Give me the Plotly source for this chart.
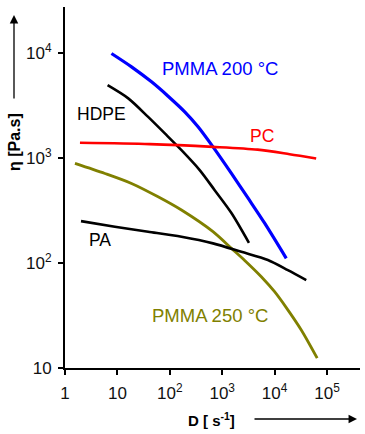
import plotly.graph_objects as go

# Data (shear rate D [1/s], viscosity eta [Pa.s])
pmma200_D = [7.7, 18.6, 44.8, 92.9, 193, 346, 668, 1500, 3100, 6460, 16700]
pmma200_eta = [9930, 7410, 5330, 3890, 2760, 1990, 1280, 715, 417, 240, 111]

hdpe_D = [6.5, 16.1, 38.6, 80.4, 167, 372, 719, 1500, 3240]
hdpe_eta = [4950, 3710, 2470, 1720, 1190, 769, 495, 300, 156]

pc_D = [1.93, 41.6, 668, 4740, 19300, 62200]
pc_eta = [1400, 1360, 1280, 1205, 1090, 993]

pmma250_D = [1.55, 5.78, 18.6, 59.8, 167, 668, 1500, 2690, 5580, 10000, 16700, 32300, 65000]
pmma250_eta = [891, 714, 574, 428, 320, 199, 138, 106, 74.1, 53.3, 37.6, 23.0, 12.4]

pa_D = [2.02, 8.95, 38.6, 167, 668, 2320, 7450, 17900, 40200]
pa_eta = [251, 222, 199, 178, 154, 128, 107, 85.7, 68.9]

x_tickvals = [1, 10, 100, 1000, 10000, 100000]
x_ticktext = ["1", "10", "10<sup>2</sup>", "10<sup>3</sup>", "10<sup>4</sup>", "10<sup>5</sup>"]
y_tickvals = [10, 100, 1000, 10000]
y_ticktext = ["10", "10<sup>2</sup>", "10<sup>3</sup>", "10<sup>4</sup>"]

FONT = "Liberation Sans"

fig = go.Figure()
series = [
    (pmma200_D, pmma200_eta, "#0000FF", 3.2),
    (hdpe_D, hdpe_eta, "#000000", 2.6),
    (pc_D, pc_eta, "#FF0000", 2.6),
    (pmma250_D, pmma250_eta, "#808000", 2.8),
    (pa_D, pa_eta, "#000000", 2.6),
]
for xs, ys, col, w in series:
    fig.add_trace(go.Scatter(x=xs, y=ys, mode="lines",
                             line=dict(color=col, width=w, shape="spline", smoothing=0.8),
                             showlegend=False, hoverinfo="skip"))

# label positions (log10 units, as required for log axes)
labels = [
    ("PMMA 200 °C", 2.952, 3.857, "#0000FF", 18.5),
    ("HDPE", 0.705, 3.419, "#000000", 17.5),
    ("PC", 3.766, 3.211, "#FF0000", 17.5),
    ("PA", 0.673, 2.219, "#000000", 17.5),
    ("PMMA 250 °C", 2.766, 1.5, "#808000", 18.5),
]
for txt, x, y, col, fs in labels:
    fig.add_annotation(x=x, y=y, xref="x", yref="y", text=txt, showarrow=False,
                       font=dict(family=FONT, size=fs, color=col),
                       xanchor="center", yanchor="middle")

L, R, T, B = 65, 5, 7, 66
W, H = 365, 434
PW, PH = W - L - R, H - T - B

def px(xp):
    return (xp - L) / PW

def py(yp):
    return (H - B - yp) / PH

# axis titles
fig.add_annotation(x=px(14), y=py(142), xref="paper", yref="paper",
                   text="<b>η [Pa.s]</b>", textangle=-90, showarrow=False,
                   font=dict(family=FONT, size=16, color="#000000"),
                   xanchor="center", yanchor="middle")
fig.add_annotation(x=px(211), y=py(419), xref="paper", yref="paper",
                   text="<b>D [ s<sup>-1</sup>]</b>", showarrow=False,
                   font=dict(family=FONT, size=15, color="#000000"),
                   xanchor="center", yanchor="middle")
# arrows
fig.add_annotation(x=px(14), y=py(15), xref="paper", yref="paper",
                   ax=0, ay=85, axref="pixel", ayref="pixel", text="",
                   showarrow=True, arrowhead=2, arrowsize=1.3, arrowwidth=1.3,
                   arrowcolor="#000000")
fig.add_annotation(x=px(357), y=py(419), xref="paper", yref="paper",
                   ax=-104, ay=0, axref="pixel", ayref="pixel", text="",
                   showarrow=True, arrowhead=2, arrowsize=1.3, arrowwidth=1.3,
                   arrowcolor="#000000")

# small overhangs of axis lines at origin
fig.add_shape(type="line", xref="paper", yref="paper", x0=-6 / PW, x1=0, y0=0, y1=0,
              line=dict(color="#000000", width=2))
fig.add_shape(type="line", xref="paper", yref="paper", x0=0, x1=0, y0=-5 / PH, y1=0,
              line=dict(color="#000000", width=2))

fig.update_xaxes(type="log", range=[0, 5.63], showgrid=False, zeroline=False,
                 showline=True, linecolor="#000000", linewidth=2,
                 ticks="outside", ticklen=5, tickwidth=1.5, tickcolor="#000000",
                 tickvals=x_tickvals, ticktext=x_ticktext, ticklabelstandoff=4,
                 tickfont=dict(family=FONT, size=17, color="#111111"))
fig.update_yaxes(type="log", range=[1, 4.44], showgrid=False, zeroline=False,
                 showline=True, linecolor="#000000", linewidth=2,
                 ticks="outside", ticklen=5, tickwidth=1.5, tickcolor="#000000",
                 tickvals=y_tickvals, ticktext=y_ticktext, ticklabelstandoff=3,
                 tickfont=dict(family=FONT, size=17, color="#111111"))

fig.update_layout(width=W, height=H, margin=dict(l=L, r=R, t=T, b=B),
                  plot_bgcolor="#FFFFFF", paper_bgcolor="#FFFFFF",
                  showlegend=False, font=dict(family=FONT))

fig.write_html("out.html", config={"displayModeBar": False},
               post_script="document.body.style.margin='0';")
